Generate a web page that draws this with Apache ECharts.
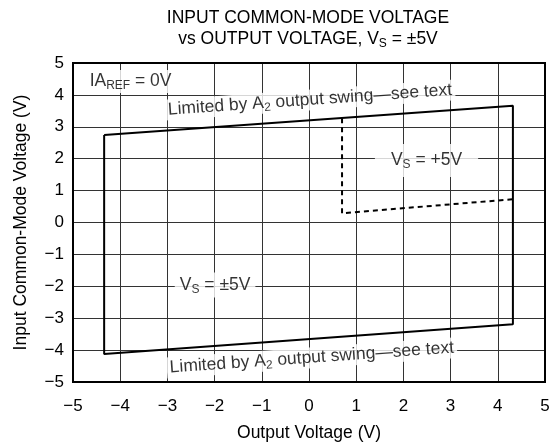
<!DOCTYPE html>
<html><head><meta charset="utf-8">
<script src="https://cdn.jsdelivr.net/npm/echarts@6/dist/echarts.min.js"></script>
<style>html,body{margin:0;padding:0;background:#fff}#c{width:559px;height:447px}</style>
</head><body><div id="c"></div>
<script>
// Data
const ticks = [-5, -4, -3, -2, -1, 0, 1, 2, 3, 4, 5];
const bipolarX = [-4.34, 4.32, 4.32, -4.34, -4.34];
const bipolarY = [2.74, 3.66, -3.19, -4.12, 2.74];
const singleX = [0.70, 0.70, 4.32];
const singleY = [3.27, 0.29, 0.73];

const FONT = 'Liberation Sans, Arial, sans-serif';
const FS = 17.5;
const chart = echarts.init(document.getElementById('c'), null, {renderer: 'canvas'});

function pairs(xs, ys) { return xs.map((x, i) => [x, ys[i]]); }

const rich = {
  n: {fontFamily: FONT, fontSize: FS, color: '#000', lineHeight: 21},
  s: {fontFamily: FONT, fontSize: 12, color: '#000', lineHeight: 21, verticalAlign: 'bottom', padding: [7, 0, 0, 0]}
};

function ann(x, y, text, extra) {
  return {
    value: [x, y],
    label: Object.assign({
      show: true, position: 'inside', formatter: text, rich: rich,
      backgroundColor: '#fff', color: '#000', fontFamily: FONT, fontSize: FS
    }, extra || {})
  };
}

const fmt = v => String(v).replace('-', '\u2212');

chart.setOption({
  animation: false,
  graphic: [{
    type: 'text', x: 308, y: 8, z: 10,
    style: {
      text: '{n|INPUT COMMON-MODE VOLTAGE}\n{n|vs OUTPUT VOLTAGE, V}{s|S}{n| = \u00b15V}',
      rich: rich, align: 'center', verticalAlign: 'top', fill: '#000'
    }
  }],
  grid: {left: 73, right: 14, top: 63, bottom: 65, show: true, borderColor: '#000', borderWidth: 2, z: 5},
  xAxis: {
    type: 'value', min: -5, max: 5, interval: 1,
    name: 'Output Voltage (V)', nameLocation: 'middle', nameGap: 42,
    nameTextStyle: {fontFamily: FONT, fontSize: FS, color: '#000'},
    axisLine: {show: false}, axisTick: {show: false},
    axisLabel: {fontFamily: FONT, fontSize: 17, color: '#000', margin: 16, formatter: fmt},
    splitLine: {show: true, lineStyle: {color: '#333', width: 1}}
  },
  yAxis: {
    type: 'value', min: -5, max: 5, interval: 1,
    name: 'Input Common-Mode Voltage (V)', nameLocation: 'middle', nameGap: 43,
    nameTextStyle: {fontFamily: FONT, fontSize: FS, color: '#000'},
    axisLine: {show: false}, axisTick: {show: false},
    axisLabel: {fontFamily: FONT, fontSize: 17, color: '#000', margin: 9, formatter: fmt},
    splitLine: {show: true, lineStyle: {color: '#333', width: 1}}
  },
  series: [
    {
      type: 'scatter', symbolSize: 0, z: 1, silent: true,
      data: [
        ann(-3.78, 4.42, '{n|IA}{s|REF}{n| = 0V}', {padding: [1, 4, 1, 4]}),
        ann(0.02, 3.84, '{n|Limited by A}{s|2}{n| output swing\u2014see text}', {rotate: 4, padding: [0, 3, 0, 3]}),
        ann(0.06, -4.24, '{n|Limited by A}{s|2}{n| output swing\u2014see text}', {rotate: 4, padding: [0, 3, 0, 3]}),
        ann(2.49, 1.94, '{n|V}{s|S}{n| = +5V}', {padding: [6, 16, 6, 16]}),
        ann(-1.99, -1.96, '{n|V}{s|S}{n| = \u00b15V}', {padding: [2, 5, 2, 5]})
      ]
    },
    {
      type: 'line', z: 3, symbol: 'none', silent: true,
      data: pairs(bipolarX, bipolarY),
      lineStyle: {color: '#000', width: 2}
    },
    {
      type: 'line', z: 3, symbol: 'none', silent: true,
      data: pairs(singleX, singleY),
      lineStyle: {color: '#000', width: 2, type: [5, 4]}
    }
  ]
});
</script></body></html>
